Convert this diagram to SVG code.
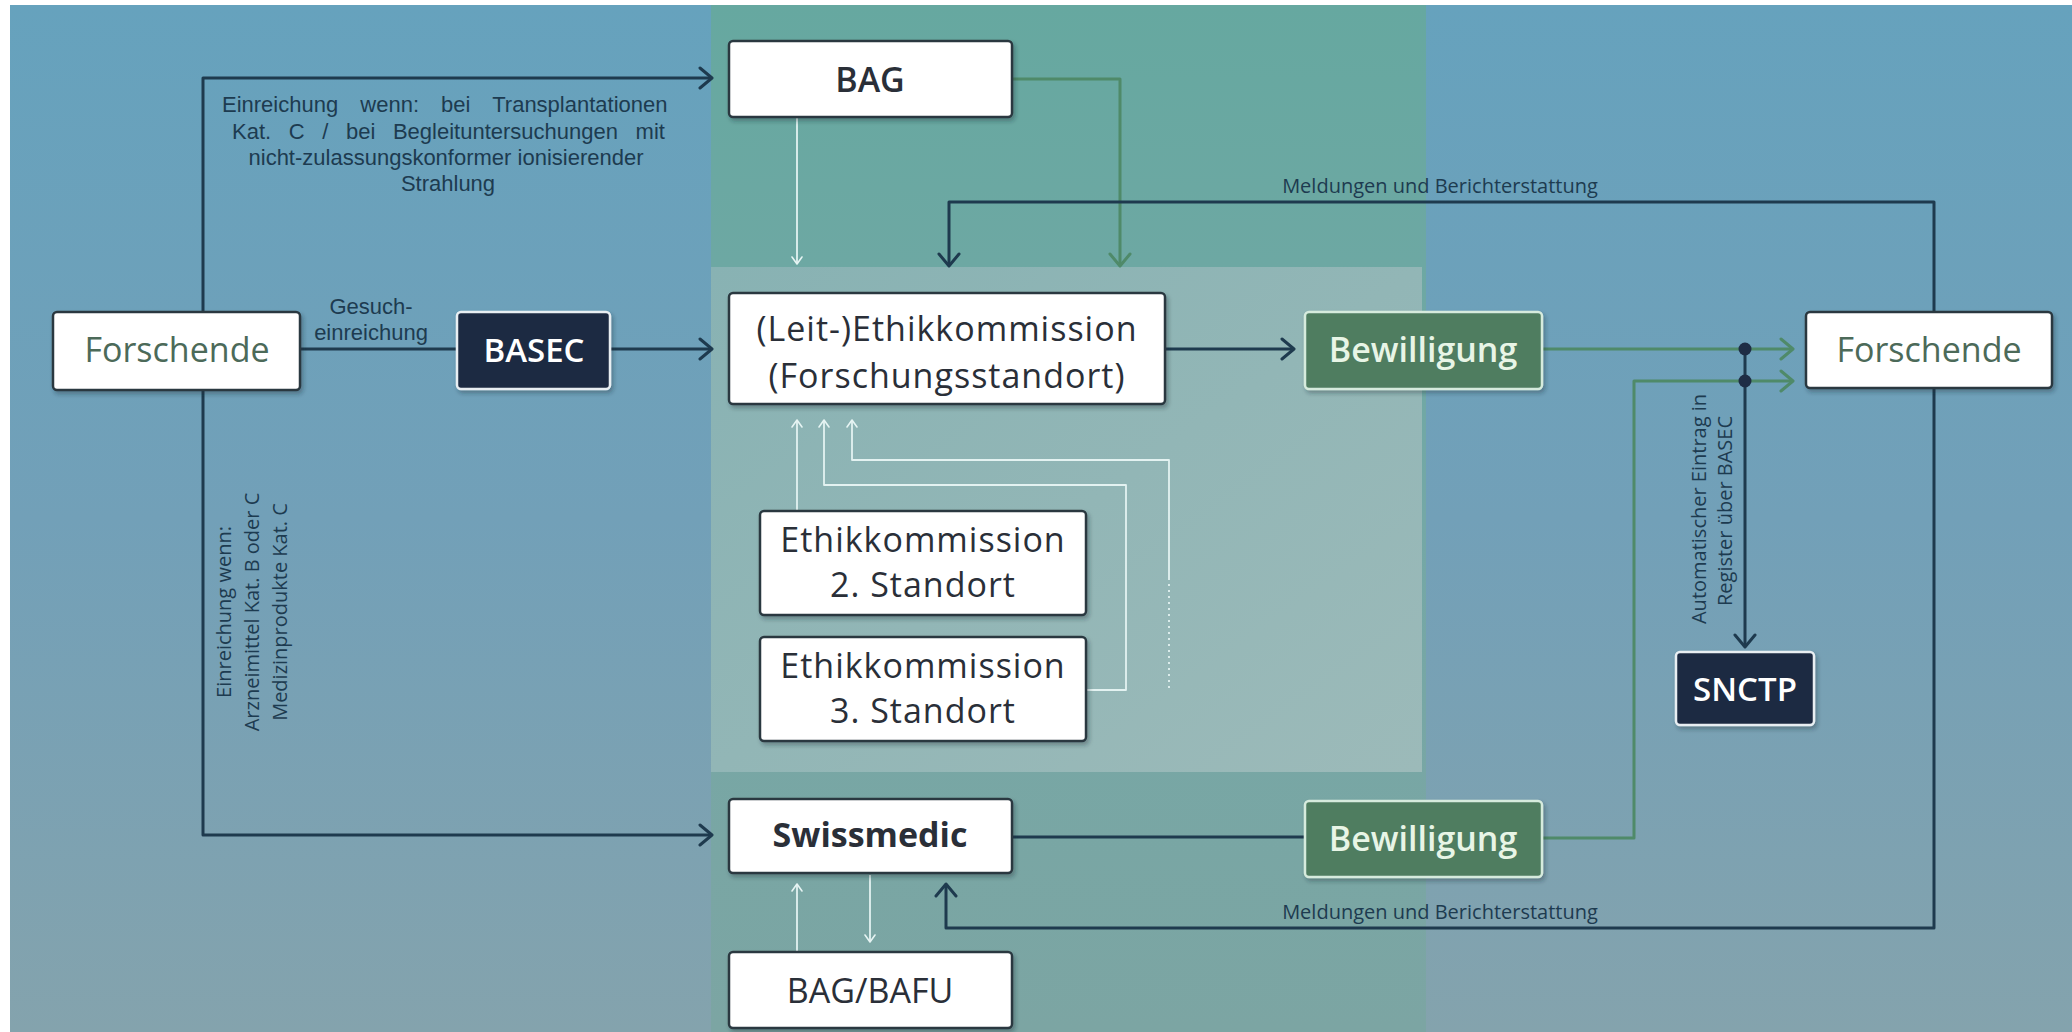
<svg xmlns="http://www.w3.org/2000/svg" width="2072" height="1032" viewBox="0 0 2072 1032">
<defs>
<linearGradient id="bgGrad" x1="0" y1="0" x2="0" y2="1">
<stop offset="0" stop-color="#66a2bd"/>
<stop offset="0.5" stop-color="#72a0b8"/>
<stop offset="1" stop-color="#84a3ad"/>
</linearGradient>
<linearGradient id="colGrad" x1="0" y1="0" x2="0" y2="1">
<stop offset="0" stop-color="#66a8a0"/>
<stop offset="0.5" stop-color="#74a8a6"/>
<stop offset="1" stop-color="#7ca5a3"/>
</linearGradient>
<linearGradient id="panelGrad" x1="0" y1="0" x2="1" y2="1">
<stop offset="0" stop-color="#88b2b3"/>
<stop offset="1" stop-color="#9cbab9"/>
</linearGradient>
<filter id="shadow" x="-10%" y="-10%" width="120%" height="130%">
<feDropShadow dx="2" dy="3" stdDeviation="2" flood-color="#1c2b33" flood-opacity="0.35"/>
</filter>
<marker id="arrDark" markerUnits="userSpaceOnUse" markerWidth="18" markerHeight="24" viewBox="0 0 18 24" refX="15" refY="12" orient="auto">
<path d="M3,2 L15,12 L3,22" fill="none" stroke="#1e3a4e" stroke-width="3" stroke-linecap="round" stroke-linejoin="round"/>
</marker>
<marker id="arrGreen" markerUnits="userSpaceOnUse" markerWidth="18" markerHeight="24" viewBox="0 0 18 24" refX="15" refY="12" orient="auto">
<path d="M3,2 L15,12 L3,22" fill="none" stroke="#4f8a69" stroke-width="3" stroke-linecap="round" stroke-linejoin="round"/>
</marker>
<marker id="arrLight" markerUnits="userSpaceOnUse" markerWidth="12" markerHeight="14" viewBox="0 0 12 14" refX="10" refY="7" orient="auto">
<path d="M3,2 L10,7 L3,12" fill="none" stroke="#e6f4f3" stroke-width="1.6" stroke-linecap="round" stroke-linejoin="round"/>
</marker>
</defs>
<style>
.box{fill:#ffffff;stroke:#2c3941;stroke-width:2.5;filter:url(#shadow)}
.dark{fill:#1f2a42;stroke:#e8eef2;stroke-width:2.5;filter:url(#shadow)}
.green{fill:#4f7d60;stroke:#d6ebdd;stroke-width:2.5;filter:url(#shadow)}
.t{font-family:"Open Sans","Noto Sans","Liberation Sans",sans-serif;text-anchor:middle}
.node{font-size:34px;fill:#2a2f38}
.lbl{font-family:"Open Sans","Noto Sans","Liberation Sans",sans-serif;font-size:20px;fill:#1d3b50;text-anchor:middle}
.ar{font-family:"Liberation Sans",Arial,sans-serif;font-size:22px;fill:#1d3b50}
.ld{fill:none;stroke:#1e3a4e;stroke-width:3;stroke-linejoin:round}
.lg{fill:none;stroke:#4f8a69;stroke-width:3;stroke-linejoin:round}
.ll{fill:none;stroke:#e3f2f1;stroke-width:1.8;stroke-linejoin:round}
</style>
<!-- background -->
<rect x="0" y="0" width="2072" height="1032" fill="#ffffff"/>
<rect x="10" y="5" width="2062" height="1027" fill="url(#bgGrad)"/>
<rect x="711" y="5" width="715" height="1027" fill="url(#colGrad)"/>
<rect x="711" y="267" width="711" height="505" fill="url(#panelGrad)"/>

<!-- connectors -->
<g id="connectors">
<path class="ld" d="M203,350 V78 H712" marker-end="url(#arrDark)"/>
<path class="ld" d="M203,350 V835 H712" marker-end="url(#arrDark)"/>
<path class="ld" d="M301,349 H457"/>
<path class="ld" d="M611,349 H712" marker-end="url(#arrDark)"/>
<path class="ll" d="M797,118 V264" marker-end="url(#arrLight)"/>
<path class="lg" d="M1012,79 H1120 V266" marker-end="url(#arrGreen)"/>
<path class="ld" d="M1934,560 V202 H949 V266" marker-end="url(#arrDark)"/>
<path class="ld" d="M1934,560 V928 H946 V884" marker-end="url(#arrDark)"/>
<path class="ld" d="M1165,349 H1294" marker-end="url(#arrDark)"/>
<path class="lg" d="M1542,349 H1793" marker-end="url(#arrGreen)"/>
<path class="lg" d="M1542,838 H1634 V381 H1793" marker-end="url(#arrGreen)"/>
<path class="ld" d="M1745,349 V647" marker-end="url(#arrDark)"/>
<circle cx="1745" cy="349" r="6.5" fill="#1e2d45"/>
<circle cx="1745" cy="381" r="6.5" fill="#1e2d45"/>
<path class="ld" d="M1012,837 H1305"/>
<path class="ll" d="M797,952 V884" marker-end="url(#arrLight)"/>
<path class="ll" d="M870,875 V942" marker-end="url(#arrLight)"/>
<path class="ll" d="M797,511 V420" marker-end="url(#arrLight)"/>
<path class="ll" d="M1086,690 H1126 V485 H824 V420" marker-end="url(#arrLight)"/>
<path class="ll" d="M1169,578 V460 H852 V420" marker-end="url(#arrLight)"/>
<path class="ll" d="M1169,688 V578" stroke-dasharray="2 4"/>
</g>

<!-- labels -->
<g id="labels">
<text class="ar" x="222" y="112" word-spacing="16">Einreichung wenn: bei Transplantationen</text>
<text class="ar" x="232" y="139" word-spacing="11.5">Kat. C / bei Begleituntersuchungen mit</text>
<text class="ar" x="446" y="165" text-anchor="middle">nicht-zulassungskonformer ionisierender</text>
<text class="ar" x="448" y="191" text-anchor="middle">Strahlung</text>
<text class="ar" x="371" y="314" text-anchor="middle" font-size="21">Gesuch-</text>
<text class="ar" x="371" y="340" text-anchor="middle" font-size="21">einreichung</text>
<text class="lbl" x="1440" y="193" font-size="20.5">Meldungen und Berichterstattung</text>
<text class="lbl" x="1440" y="919" font-size="20.5">Meldungen und Berichterstattung</text>
<text class="lbl" transform="translate(231,612) rotate(-90)">Einreichung wenn:</text>
<text class="lbl" transform="translate(259,612) rotate(-90)">Arzneimittel Kat. B oder C</text>
<text class="lbl" transform="translate(287,612) rotate(-90)">Medizinprodukte Kat. C</text>
<text class="lbl" font-size="19.5" transform="translate(1706,509) rotate(-90)">Automatischer Eintrag in</text>
<text class="lbl" font-size="19.5" transform="translate(1732,511) rotate(-90)">Register über BASEC</text>
</g>

<!-- nodes -->
<g id="forschende-left">
<rect class="box" x="53" y="312" width="247" height="78" rx="4"/>
<text class="t node" x="177" y="362" style="fill:#4c6a59">Forschende</text>
</g>
<g id="basec">
<rect class="dark" x="457" y="312" width="153" height="77" rx="4"/>
<text class="t" x="534" y="362" font-size="33" font-weight="600" fill="#ffffff">BASEC</text>
</g>
<g id="bag">
<rect class="box" x="729" y="41" width="283" height="76" rx="4"/>
<text class="t node" x="870" y="92" font-weight="600">BAG</text>
</g>
<g id="leit-ek">
<rect class="box" x="729" y="293" width="436" height="111" rx="4"/>
<text class="t node" x="947" y="341" letter-spacing="1">(Leit-)Ethikkommission</text>
<text class="t node" x="947" y="388" letter-spacing="1">(Forschungsstandort)</text>
</g>
<g id="bewilligung-1">
<rect class="green" x="1305" y="312" width="237" height="77" rx="4"/>
<text class="t" x="1423" y="362" font-size="34" font-weight="600" fill="#e8f5e6">Bewilligung</text>
</g>
<g id="forschende-right">
<rect class="box" x="1806" y="312" width="246" height="76" rx="4"/>
<text class="t node" x="1929" y="362" style="fill:#4c6a59">Forschende</text>
</g>
<g id="ek2">
<rect class="box" x="760" y="511" width="326" height="104" rx="4"/>
<text class="t node" x="923" y="552" font-size="33" letter-spacing="1">Ethikkommission</text>
<text class="t node" x="923" y="597" font-size="33" letter-spacing="1">2. Standort</text>
</g>
<g id="ek3">
<rect class="box" x="760" y="637" width="326" height="104" rx="4"/>
<text class="t node" x="923" y="678" font-size="33" letter-spacing="1">Ethikkommission</text>
<text class="t node" x="923" y="723" font-size="33" letter-spacing="1">3. Standort</text>
</g>
<g id="snctp">
<rect class="dark" x="1676" y="652" width="138" height="73" rx="4"/>
<text class="t" x="1745" y="701" font-size="33" font-weight="600" fill="#ffffff">SNCTP</text>
</g>
<g id="swissmedic">
<rect class="box" x="729" y="799" width="283" height="74" rx="4"/>
<text class="t node" x="870" y="847" font-size="32" font-weight="700">Swissmedic</text>
</g>
<g id="bewilligung-2">
<rect class="green" x="1305" y="801" width="237" height="76" rx="4"/>
<text class="t" x="1423" y="851" font-size="34" font-weight="600" fill="#e8f5e6">Bewilligung</text>
</g>
<g id="bag-bafu">
<rect class="box" x="729" y="952" width="283" height="76" rx="4"/>
<text class="t node" x="870" y="1003" font-size="32">BAG/BAFU</text>
</g>
</svg>
